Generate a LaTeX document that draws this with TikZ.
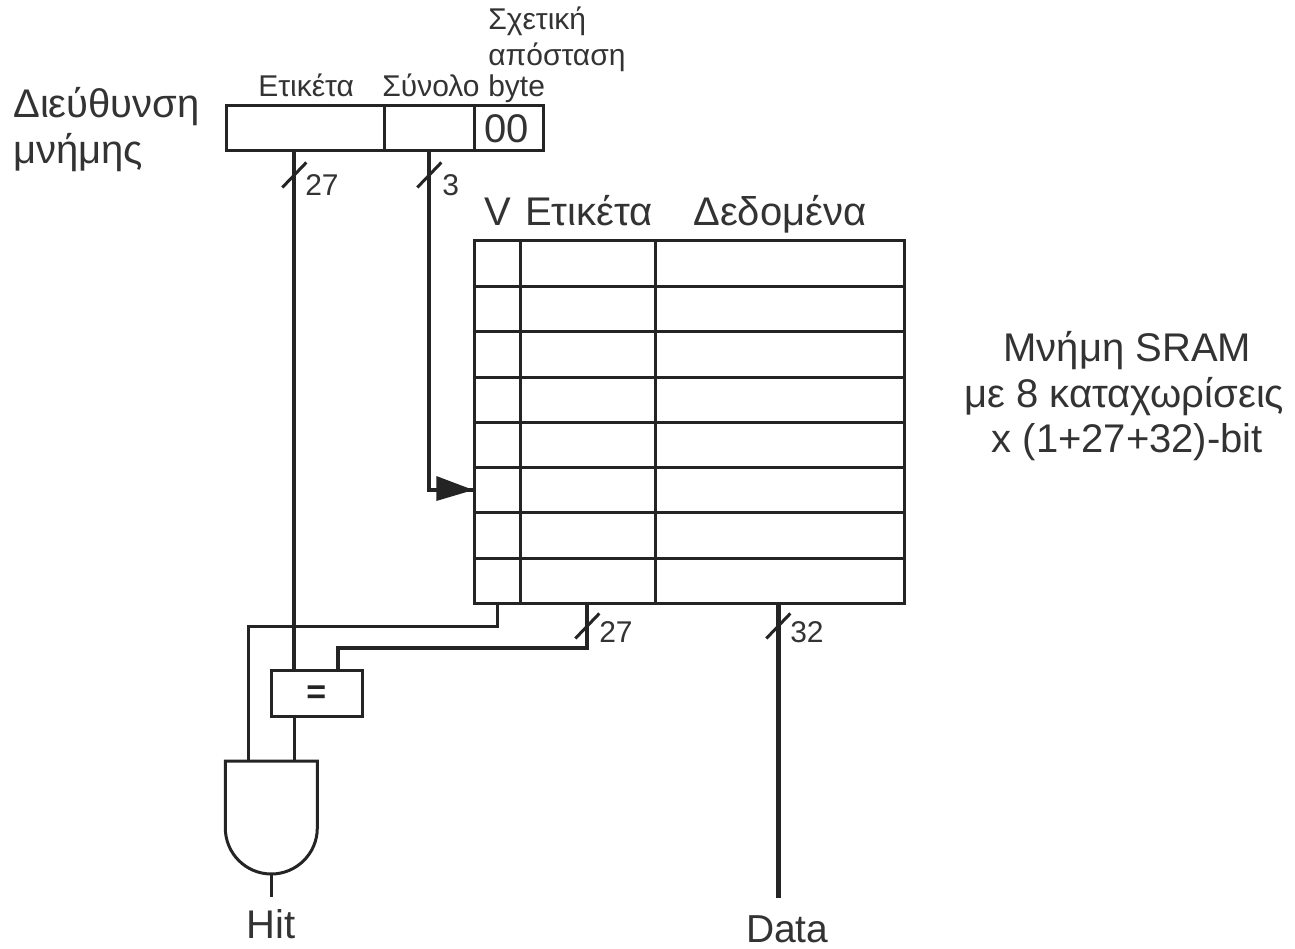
\documentclass[tikz,border=0pt]{standalone}
\usepackage{fontspec}
\setmainfont{Liberation Sans}
\definecolor{ink}{gray}{0.14}
\definecolor{txt}{gray}{0.2}
\newcommand{\bustick}[1]{\draw[wire] ([shift={(-12,12.5)}]#1) -- ([shift={(12,-12.5)}]#1);}
\tikzset{
  wire/.style={draw=ink,line width=3pt,line cap=butt,line join=miter},
  buswire/.style={draw=ink,line width=3.8pt,line join=miter},
  box/.style={draw=ink,line width=3pt,inner sep=0pt,outer sep=0pt,anchor=north west},
  lab/.style={text=txt,inner sep=0pt,outer sep=0pt,anchor=base west},
  big/.style={lab,font=\fontsize{40}{46}\selectfont},
  small/.style={lab,font=\fontsize{30}{35}\selectfont},
}
\begin{document}
\begin{tikzpicture}[x=1pt,y=-1pt]
\useasboundingbox (0,0) rectangle (1295,949);
\begin{scope}[shift={(-0.7,0)}]
% address register
\node[box,minimum width=158pt,minimum height=45pt] (tagf) at (227,106) {};
\node[box,minimum width=90pt,minimum height=45pt] (setf) at (385,106) {};
\node[box,minimum width=69pt,minimum height=45pt] (offf) at (475,106) {};
\node[lab,font=\fontsize{40}{46}\selectfont,anchor=base] (zz) at (507,143) {00};
% labels
\node[big] (addr1) at (14,118) {Διεύθυνση};
\node[big] (addr2) at (14,164) {μνήμης};
\node[small] (ltag) at (259,97) {Ετικέτα};
\node[small] (lset) at (383,97) {Σύνολο};
\node[small] (loff3) at (489,97) {byte};
\node[small] (loff2) at (489,66) {απόσταση};
\node[small] (loff1) at (489,30) {Σχετική};
\node[big] (hv) at (485,226) {V};
\node[big] (htag) at (526,226) {Ετικέτα};
\node[big] (hdata) at (694,226) {Δεδομένα};
\node[big,anchor=base] (sr1) at (1128,362) {Μνήμη SRAM};
\node[big,anchor=base] (sr2) at (1125,407) {με 8 καταχωρίσεις};
\node[big,anchor=base] (sr3) at (1128,452) {x (1+27+32)-bit};
% table
\node[box,minimum width=430pt,minimum height=362pt] (sram) at (475,241) {};
\foreach \r/\y in {1/287,2/332,3/377,4/422,5/467,6/512,7/558}{
  \draw[wire] (475,\y) -- (905,\y);
}
\draw[wire] (521,241) -- (521,603);
\draw[wire] (656,241) -- (656,603);
% named connector points
\coordinate (tagout) at (295,151);
\coordinate (setout) at (430,151);
\coordinate (setturn) at (430,490);
\coordinate (rowin) at (474,490);
\coordinate (vout) at (498,603);
\coordinate (vturn) at (498,626);
\coordinate (vleft) at (249,626);
\coordinate (tout) at (588,603);
\coordinate (tturn) at (588,648);
\coordinate (tleft) at (339,648);
\coordinate (dout) at (779,603);
\coordinate (dend) at (779,898);
\coordinate (t27a) at (295,175);
\coordinate (t3a) at (430,175);
\coordinate (t27b) at (588,626);
\coordinate (t32) at (779,626);
% comparator
\node[box,minimum width=91pt,minimum height=46pt] (cmp) at (272,670) {};
\node[text=ink,inner sep=0pt,font=\bfseries\fontsize{34}{38}\selectfont] (eq) at (317,695) {=};
% AND gate
\draw[wire,fill=white] (226,761) coordinate (gl) -- (318,761) coordinate (gr) -- (318,828) arc[start angle=0,end angle=180,radius=46] -- cycle;
\coordinate (gin1) at (249,761);
\coordinate (gin2) at (295,761);
\coordinate (gout) at (272,874);
\coordinate (hitend) at (272,897);
% wires
\draw[buswire] (tagout) -- (tagout |- cmp.north);
\draw[wire] (295,716) -- (gin2);
\draw[buswire] (setout) -- (setturn) -- (rowin);
\fill[ink] (474,490) -- (437,476) -- (437,501) -- cycle;
\draw[wire] (vout) -- (vturn) -- (vleft) -- (gin1);
\draw[buswire] (tout) -- (tturn) -- (tleft) -- (tleft |- cmp.north);
\draw[buswire,line width=5pt] (dout) -- (dend);
\draw[wire] (gout) -- (hitend);
% bus ticks
\bustick{t27a}
\bustick{t3a}
\bustick{t27b}
\bustick{t32}
\node[small] (n27a) at (306,196) {27};
\node[small] (n3) at (443,196) {3};
\node[small] (n27b) at (600,642) {27};
\node[small] (n32) at (791,642) {32};
\node[big,anchor=base] (hit) at (272,938) {Hit};
\node[lab,font=\fontsize{39}{45}\selectfont,anchor=base] (data) at (788,942) {Data};
\end{scope}
\end{tikzpicture}
\end{document}
